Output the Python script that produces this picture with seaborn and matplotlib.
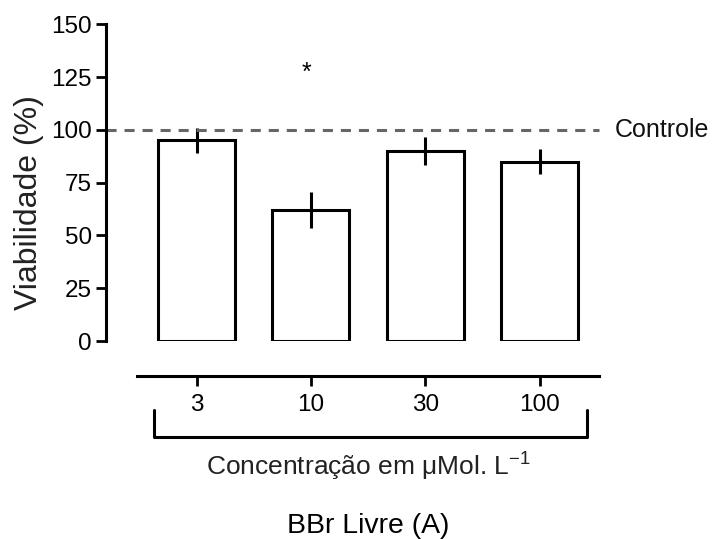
import matplotlib
matplotlib.use("Agg")
import matplotlib.pyplot as plt
import seaborn as sns
import pandas as pd
import numpy as np

concentrations = ["3", "10", "30", "100"]
viability = [95, 62, 90, 85]
errors = [6, 8.5, 6.5, 6]
control_value = 100
yticks = [0, 25, 50, 75, 100, 125, 150]
star_value = 127

sns.set_theme(style="white")
plt.rcParams['font.family'] = ['Liberation Sans', 'DejaVu Sans']

W, H = 716, 539
fig = plt.figure(figsize=(W / 100, H / 100), dpi=100)

def fx(px):
    return px / W

def fy(py):
    return 1 - py / H

# main axes: left spine at x=106, right edge 599; y from 341 (0) to 24.3 (150)
ax = fig.add_axes([fx(106), fy(341), fx(599) - fx(106), fy(24.3) - fy(341)])
df = pd.DataFrame({"conc": concentrations, "viab": viability})
sns.barplot(data=df, x="conc", y="viab", ax=ax, width=0.675,
            color="white", edgecolor="black", linewidth=2.2, errorbar=None)
ax.errorbar(np.arange(len(concentrations)), viability, yerr=errors,
            fmt="none", ecolor="black", elinewidth=2.2, capsize=0)
ax.set_xlim(-0.792, 3.52)
ax.set_ylim(0, 150)
ax.set_yticks(yticks)
ax.tick_params(axis="y", direction="out", length=7, width=2, labelsize=17.5,
               left=True, pad=3, colors="black")
ax.tick_params(axis="x", bottom=False, labelbottom=False)
for s in ["top", "right", "bottom"]:
    ax.spines[s].set_visible(False)
ax.spines["left"].set_linewidth(2.2)
ax.spines["left"].set_color("black")
ax.set_xlabel("")
ax.set_ylabel("Viabilidade (%)", fontsize=23, color="#222222", va="center")
ax.yaxis.set_label_coords((29 - 106) / 493, (341 - 203) / (341 - 24.3))
ax.axhline(control_value, color="#666666", lw=2.2, ls=(0, (3.3, 2.6)), clip_on=False)
ax.text(1.032, control_value, "Controle", transform=ax.get_yaxis_transform(),
        ha="left", va="center", fontsize=18, color="#111111")
ax.text(1 - 0.04, star_value, "*", ha="center", va="center", fontsize=18, color="black")
ax.patch.set_alpha(0)

# category axis below
ax2 = fig.add_axes([fx(106), fy(437), fx(599) - fx(106), fy(375.7) - fy(437)])
ax2.set_xlim(-0.792, 3.52)
ax2.set_ylim(437, 375.7)
ax2.set_xticks(range(len(concentrations)))
ax2.set_xticklabels(concentrations)
ax2.set_yticks([])
for s in ["top", "right", "left"]:
    ax2.spines[s].set_visible(False)
ax2.spines["bottom"].set_position(("data", 375.7))
ax2.spines["bottom"].set_bounds(-0.523, 3.52)
ax2.spines["bottom"].set_linewidth(2.2)
ax2.spines["bottom"].set_color("black")
ax2.tick_params(axis="x", bottom=True, direction="out", length=7, width=2,
                labelsize=17.5, pad=6, colors="black")
ax2.plot([-0.372, -0.372, 3.416, 3.416], [410, 437, 437, 410], color="black",
         lw=2.2, clip_on=False)
ax2.patch.set_alpha(0)

fig.text(fx(368), fy(466), "Concentração em μMol. L$^{\\mathregular{-1}}$", ha="center",
         va="center", fontsize=19, color="#222222")
fig.text(fx(368), fy(526), "BBr Livre (A)", ha="center", va="center",
         fontsize=20.4, color="black")

fig.savefig("out.png", dpi=100, facecolor="white")
